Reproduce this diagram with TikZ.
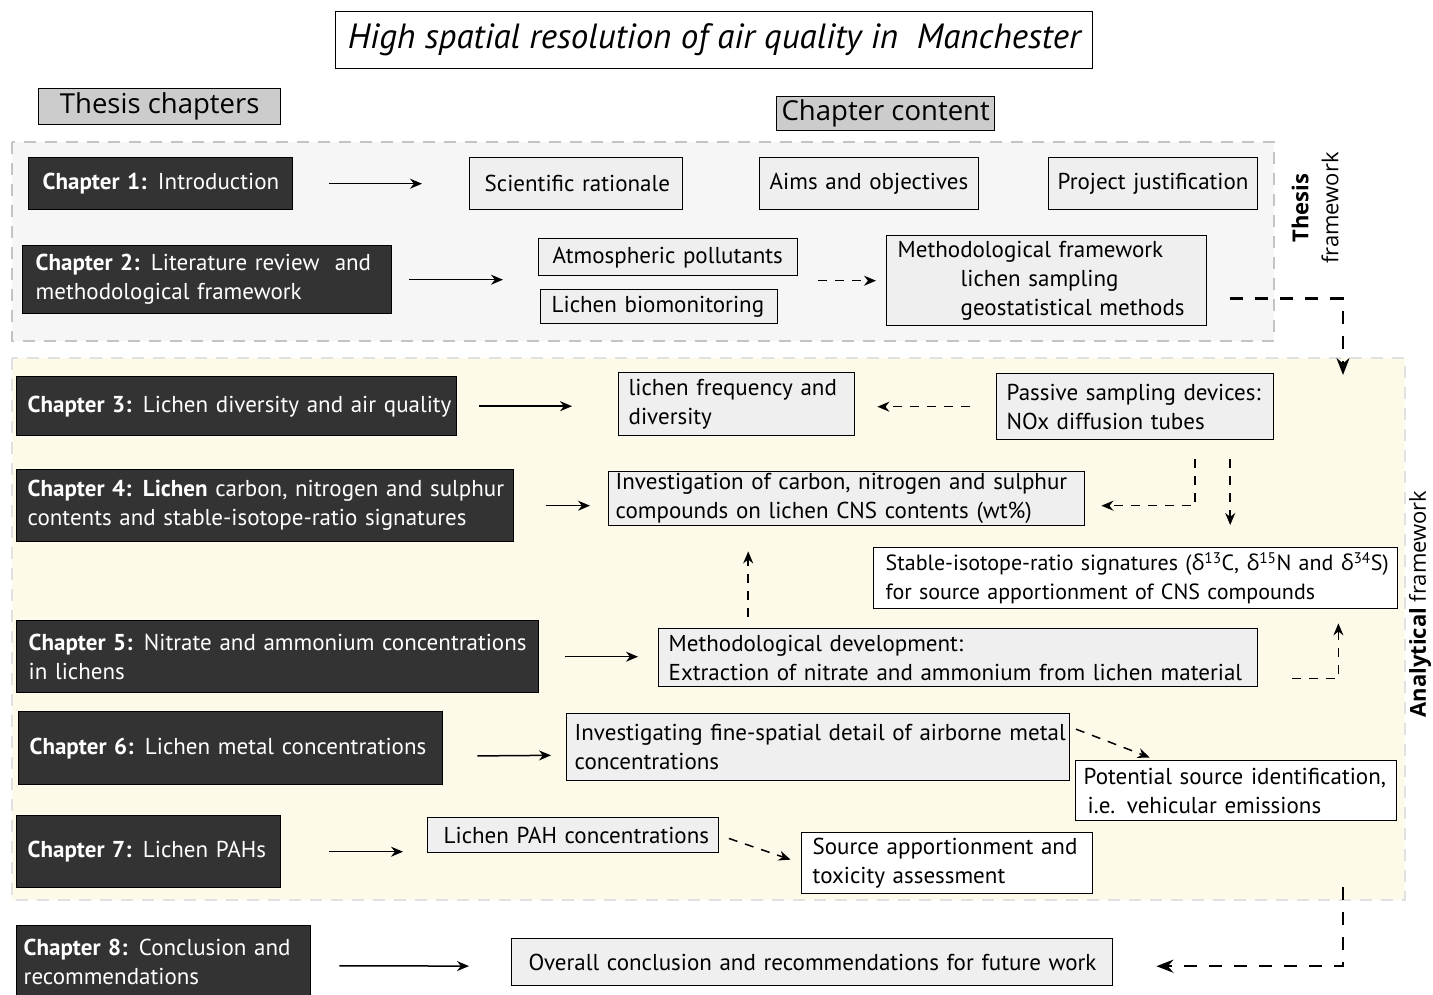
\documentclass[tikz,border=0pt]{standalone}
\usepackage{fontspec}
\setmainfont{PT Sans}
\newfontfamily\headfont{Open Sans}
\usepackage{tikz}
\usetikzlibrary{positioning,arrows.meta}

\definecolor{chapfill}{HTML}{333333}
\definecolor{contfill}{HTML}{EFEFEF}
\definecolor{headfill}{HTML}{CCCCCC}
\definecolor{thesisbg}{HTML}{F6F6F6}
\definecolor{analybg}{HTML}{FDFAEA}
\definecolor{regionline}{HTML}{C4C4C4}

\newcommand\oneline[1]{\mbox{#1}}
\newcommand\dlt{{\headfont δ}}

\begin{document}
\begin{tikzpicture}[x=1pt, y=-1pt, font=\fontsize{23}{29}\selectfont]
        \tikzstyle{every node}=[inner ysep=0pt, align=left, anchor=north west, line width=1.4pt]
        \tikzstyle{chap}=[draw=black, fill=chapfill, text=white]
        \tikzstyle{cont}=[draw=black, fill=contfill]
        \tikzstyle{contw}=[draw=black, fill=white]
        \tikzstyle{head}=[draw=black, fill=headfill, align=center, inner xsep=0pt, font=\headfont\fontsize{27.5}{32}\selectfont]
        \tikzstyle{side}=[rotate=90, anchor=center, align=center, font=\headfont\fontsize{22}{30}\selectfont]
        \tikzstyle{arr}=[line width=1.5pt, -{Stealth[length=12pt, width=10pt]}]
        \tikzstyle{darr}=[arr, dash pattern=on 9pt off 8pt]
        \tikzstyle{bigdarr}=[line width=2.5pt, dash pattern=on 13pt off 12pt, -{Stealth[length=17pt, width=13pt]}]

        \useasboundingbox (0,0) rectangle (1433,995);

        % framework regions
        \draw[regionline, fill=thesisbg, line width=1.5pt, dash pattern=on 12pt off 9pt] (12,142) rectangle (1274,341);
        \draw[regionline!50, fill=analybg, line width=1.5pt, dash pattern=on 12pt off 9pt] (12,358) rectangle (1405,900);

        \node (title) [draw, fill=white, minimum width=757pt, minimum height=57pt, inner xsep=0pt, align=center,
            font=\fontsize{35}{40}\selectfont\itshape] at (335,11) {High spatial resolution of air quality in\ \ Manchester};
        \node (thchap) [head, minimum width=242pt, minimum height=36pt] at (38,88) {Thesis chapters};
        \node (chcont) [head, minimum width=218pt, minimum height=34pt] at (776,96) {Chapter content};

        \node (thlab) [side] at (1315,208) {\bfseries Thesis\\framework};
        \node (anlab) [side] at (1420,604) {\textbf{Analytical} framework};

        % thesis chapters
        \node (ch1) [chap, text width=236pt, inner xsep=14pt, minimum height=52pt] at (28,157) {\oneline{\textbf{Chapter 1:} Introduction}};
        \node (ch2) [chap, text width=343pt, inner xsep=13pt, minimum height=68pt] at (22,245) {\oneline{\textbf{Chapter 2:} Literature review\ \ and}\\\oneline{methodological framework}};
        \node (ch3) [chap, text width=418pt, inner xsep=11pt, minimum height=59pt] at (16,376) {\oneline{\textbf{Chapter 3:} Lichen diversity and air quality}};
        \node (ch4) [chap, text width=475pt, inner xsep=11pt, minimum height=72pt] at (16,469) {\oneline{\textbf{Chapter 4: Lichen} carbon, nitrogen and sulphur}\\\oneline{contents and stable-isotope-ratio signatures}};
        \node (ch5) [chap, text width=498pt, inner xsep=12pt, minimum height=72pt] at (16,620) {\oneline{\textbf{Chapter 5:} Nitrate and ammonium concentrations}\\\oneline{in lichens}};
        \node (ch6) [chap, text width=402pt, inner xsep=11pt, minimum height=73pt] at (18,711) {\oneline{\textbf{Chapter 6:} Lichen metal concentrations}};
        \node (ch7) [chap, text width=242pt, inner xsep=11pt, minimum height=72pt] at (16,815) {\oneline{\textbf{Chapter 7:} Lichen PAHs}};
        \node (ch8) [chap, text width=280pt, inner xsep=7pt, minimum height=72pt] at (16,925) {\oneline{\textbf{Chapter 8:} Conclusion and}\\\oneline{recommendations}};

        % chapter content
        \node (sci) [cont, text width=183pt, inner xsep=15pt, minimum height=52pt] at (469,157) {\oneline{Scientific rationale}};
        \node (aims) [cont, text width=199pt, inner xsep=10pt, minimum height=52pt] at (759,157) {\oneline{Aims and objectives}};
        \node (proj) [cont, text width=191pt, inner xsep=9pt, minimum height=52pt] at (1048,157) {\oneline{Project justification}};
        \node (atmos) [cont, text width=231pt, inner xsep=14pt, minimum height=37pt] at (538,238) {\oneline{Atmospheric pollutants}};
        \node (biomon) [cont, text width=215pt, inner xsep=11pt, minimum height=34pt] at (540,289) {\oneline{Lichen biomonitoring}};
        \node (methfw) [cont, text width=298pt, inner xsep=11pt, minimum height=90pt] at (886,235) {\oneline{Methodological framework}\\\oneline{\hspace*{63pt}lichen sampling}\\\oneline{\hspace*{63pt}geostatistical methods}};
        \node (freq) [cont, text width=216pt, inner xsep=10pt, minimum height=63pt] at (618,372) {\oneline{lichen frequency and}\\\oneline{diversity}};
        \node (passive) [cont, text width=257pt, inner xsep=10pt, minimum height=66pt] at (996,373) {\oneline{Passive sampling devices:}\\\oneline{NOx diffusion tubes}};
        \node (invest) [cont, text width=462pt, inner xsep=7pt, minimum height=54pt] at (608,471) {\oneline{Investigation of carbon, nitrogen and sulphur}\\\oneline{compounds on lichen CNS contents (wt\%)}};
        \node (stable) [contw, text width=500pt, inner xsep=12pt, minimum height=61pt, font=\fontsize{22}{29}\selectfont] at (873,547) {\oneline{Stable-isotope-ratio signatures (\dlt\textsuperscript{13}C, \dlt\textsuperscript{15}N and \dlt\textsuperscript{34}S)}\\\oneline{for source apportionment of CNS compounds}};
        \node (metdev) [cont, text width=579pt, inner xsep=10pt, minimum height=58pt] at (658,628) {\oneline{Methodological development:}\\\oneline{Extraction of nitrate and ammonium from lichen material}};
        \node (fine) [cont, text width=487pt, inner xsep=8pt, minimum height=67pt] at (566,713) {\oneline{Investigating fine-spatial detail of airborne metal}\\\oneline{concentrations}};
        \node (potential) [contw, text width=305pt, inner xsep=8pt, minimum height=60pt] at (1075,760) {\oneline{Potential source identification,}\\\oneline{\hspace*{4pt}i.e. vehicular emissions}};
        \node (pah) [cont, text width=259pt, inner xsep=16pt, minimum height=35pt] at (427,817) {\oneline{Lichen PAH concentrations}};
        \node (srcapp) [contw, text width=269pt, inner xsep=11pt, minimum height=61pt] at (801,832) {\oneline{Source apportionment and}\\\oneline{toxicity assessment}};
        \node (overall) [cont, text width=567pt, inner xsep=17pt, minimum height=47pt] at (511,938) {\oneline{Overall conclusion and recommendations for future work}};

        \coordinate (tfdrop) at (1343,375);
        \coordinate (afdrop) at (1343,887);
        \coordinate (pdrop) at ([xshift=95pt]passive.south);
        \coordinate (mup) at ([xshift=-210pt]metdev.north);

        % chapter to content
        \draw[arr, shorten <=36pt, shorten >=47pt] (ch1.east) -- (ch1.east -| sci.west);
        \draw[arr, shorten <=17pt, shorten >=35pt] (ch2.east) -- (ch2.east -| atmos.west);
        \draw[arr, shorten <=22pt, shorten >=46pt] (ch3.east) -- (ch3.east -| freq.west);
        \draw[arr, shorten <=32pt, shorten >=18pt] (ch4.east) -- (ch4.east -| invest.west);
        \draw[arr, shorten <=26pt, shorten >=20pt] (ch5.east) -- (ch5.east -| metdev.west);
        \draw[arr, shorten <=34pt, shorten >=15pt] ([yshift=-8pt]ch6.east) -- ([yshift=-8pt]fine.west);
        \draw[arr, shorten <=48pt, shorten >=24pt] (ch7.east) -- (ch7.east -| pah.west);
        \draw[arr, shorten <=28pt, shorten >=42pt] ([yshift=-4pt]ch8.east) -- ([yshift=-4pt]overall.west);

        % links between contents
        \draw[darr, shorten <=20pt, shorten >=10pt] (atmos.east |- methfw.west) -- (methfw.west);
        \draw[bigdarr, shorten <=23pt] ([yshift=-18pt]methfw.east) -| (tfdrop);
        \draw[darr, shorten <=26pt, shorten >=22pt] (passive.west) -- (passive.west -| freq.east);
        \draw[darr, shorten <=19pt, shorten >=16pt] ([xshift=60pt]passive.south) |- ([yshift=-7pt]invest.east);
        \draw[darr, shorten <=19pt, shorten >=22pt] (pdrop) -- (pdrop |- stable.north);
        \draw[darr, shorten <=11pt, shorten >=25pt] (mup) -- (mup |- invest.south);
        \draw[darr, shorten <=34pt, shorten >=14pt] ([yshift=-21pt]metdev.east) -| ([xshift=-60pt]stable.south east);
        \draw[darr, shorten <=6pt, shorten >=7pt] ([yshift=-14pt]fine.north east) -- ([xshift=-80pt]potential.north);
        \draw[darr, shorten <=10pt, shorten >=11pt] (pah.east) -- (srcapp.west);
        \draw[bigdarr, shorten >=43pt] (afdrop) |- ([yshift=-4pt]overall.east);

    \end{tikzpicture}
\end{document}
